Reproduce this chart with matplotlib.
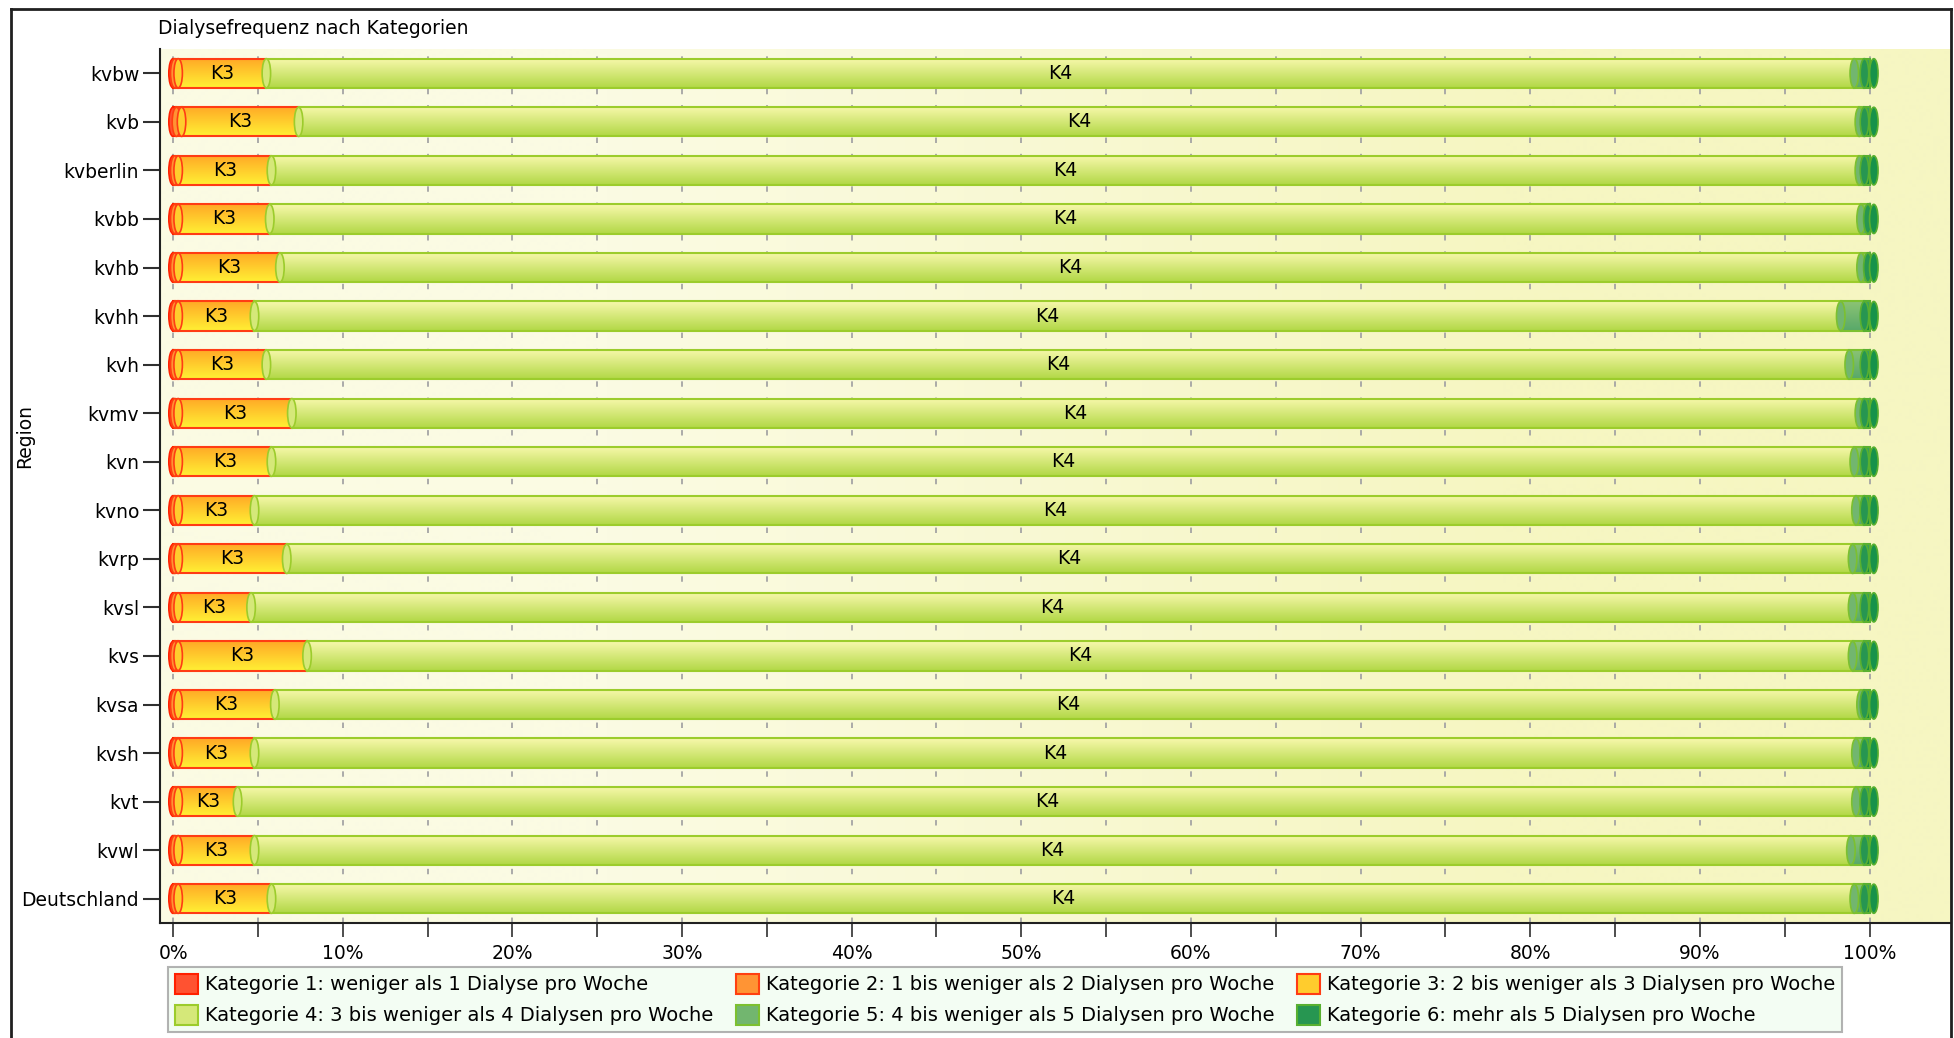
import numpy as np
from matplotlib import pyplot as plt
from matplotlib.patches import Ellipse, Patch
from matplotlib.lines import Line2D
from matplotlib.colors import to_rgb

regions = ['kvbw', 'kvb', 'kvberlin', 'kvbb', 'kvhb', 'kvhh', 'kvh', 'kvmv', 'kvn',
           'kvno', 'kvrp', 'kvsl', 'kvs', 'kvsa', 'kvsh', 'kvt', 'kvwl', 'Deutschland']

# percent share per category
kat1 = [0.1, 0.2, 0.1, 0.1, 0.1, 0.1, 0.1, 0.1, 0.1, 0.1, 0.1, 0.1, 0.1, 0.1, 0.1, 0.1, 0.1, 0.1]
kat2 = [0.2, 0.3, 0.2, 0.2, 0.2, 0.2, 0.2, 0.2, 0.2, 0.2, 0.2, 0.2, 0.2, 0.2, 0.2, 0.2, 0.2, 0.2]
kat3 = [5.2, 6.9, 5.5, 5.4, 6.0, 4.5, 5.2, 6.7, 5.5, 4.5, 6.4, 4.3, 7.6, 5.7, 4.5, 3.5, 4.5, 5.5]
kat4 = [93.6, 92.0, 93.6, 93.8, 93.2, 93.5, 93.3, 92.4, 93.3, 94.4, 92.3, 94.4, 91.1, 93.5, 94.4, 95.4, 94.1, 93.3]
kat5 = [0.6, 0.3, 0.3, 0.4, 0.4, 1.4, 0.9, 0.3, 0.6, 0.5, 0.7, 0.7, 0.7, 0.2, 0.5, 0.5, 0.8, 0.6]
kat6 = [0.3, 0.3, 0.3, 0.1, 0.1, 0.3, 0.3, 0.3, 0.3, 0.3, 0.3, 0.3, 0.3, 0.3, 0.3, 0.3, 0.3, 0.3]

legend_labels = [
    'Kategorie 1: weniger als 1 Dialyse pro Woche',
    'Kategorie 2: 1 bis weniger als 2 Dialysen pro Woche',
    'Kategorie 3: 2 bis weniger als 3 Dialysen pro Woche',
    'Kategorie 4: 3 bis weniger als 4 Dialysen pro Woche',
    'Kategorie 5: 4 bis weniger als 5 Dialysen pro Woche',
    'Kategorie 6: mehr als 5 Dialysen pro Woche',
]
seg_labels = ['', '', 'K3', 'K4', '', '']

# (top colour, bottom colour, edge colour) per category
styles = [
    ('#ff7050', '#ff3412', '#ff2000'),
    ('#ffa848', '#ff8020', '#ff4010'),
    ('#ffa826', '#fff034', '#ff3c14'),
    ('#f8f8ac', '#b2d846', '#9ccc2c'),
    ('#8cc474', '#58a86a', '#7cc030'),
    ('#3ea462', '#108840', '#58b030'),
]

BAR_H = 0.6
CAP_W = 0.5
FS = 13.5


def gradient(top, bottom, n=64):
    t = np.linspace(0, 1, n)[:, None]
    a, b = np.array(to_rgb(top)), np.array(to_rgb(bottom))
    return (a * (1 - t) + b * t)[:, None, :]


def mid_colour(k):
    top, bottom, _ = styles[k]
    return tuple((np.array(to_rgb(top)) + np.array(to_rgb(bottom))) / 2)


plt.rcParams['font.family'] = ['DejaVu Sans']
fig = plt.figure(figsize=(19.54, 10.38), dpi=100)
ax = fig.add_axes([160 / 1954, 1 - 923 / 1038, (1951 - 160) / 1954, (923 - 49) / 1038])

# plot background
bg = np.array([to_rgb('#fbfbe3'), to_rgb('#f6f6c2')])[None, :, :]
ax.imshow(bg, extent=(0, 1, 0, 1), transform=ax.transAxes, aspect='auto',
          interpolation='bilinear', zorder=0)

series = [kat1, kat2, kat3, kat4, kat5, kat6]
ypos = np.arange(len(regions))
for i, y in enumerate(ypos):
    left = 0.0
    for k, vals in enumerate(series):
        w = vals[i]
        top, bottom, edge = styles[k]
        bars = ax.barh(y, w, left=left, height=BAR_H, color='none', edgecolor=edge,
                       linewidth=1.5, zorder=2 + k * 0.1)
        img = ax.imshow(gradient(top, bottom), extent=(left, left + w, y + BAR_H / 2, y - BAR_H / 2),
                        aspect='auto', zorder=2 + k * 0.1 - 0.01, interpolation='bilinear')
        img.set_clip_path(bars[0])
        ax.add_patch(Ellipse((left, y), CAP_W, BAR_H, facecolor=mid_colour(k), edgecolor=edge,
                             linewidth=1.2, zorder=2 + k * 0.1 + 0.05))
        if seg_labels[k]:
            ax.text(left + w / 2, y, seg_labels[k], ha='center', va='center',
                    fontsize=FS, zorder=5)
        left += w
    # right end cap of the cylinder
    ax.add_patch(Ellipse((left + 0.25, y), CAP_W, BAR_H, facecolor='#17924a', edgecolor='#58b030',
                         linewidth=1.2, zorder=3))

ax.set_xlim(-0.77, 104.8)
ax.set_ylim(len(regions) - 0.5, -0.5)
ax.set_yticks(ypos)
ax.set_yticklabels(regions)
ax.set_xticks(np.arange(0, 101, 10))
ax.set_xticklabels([f'{v}%' for v in range(0, 101, 10)])
ax.set_xticks(np.arange(5, 100, 10), minor=True)

ax.set_axisbelow(True)
ax.grid(axis='x', which='both', color='#a4a4a4', linestyle=(0, (3, 6)), linewidth=1.3)
ax.tick_params(axis='x', which='both', direction='out', length=10, width=1.2,
               colors='#303030', labelsize=FS, pad=5)
ax.tick_params(axis='x', labelcolor='black')
ax.tick_params(axis='y', direction='out', length=12, width=1.5, colors='#303030',
               labelsize=FS, pad=3, labelcolor='black')
for side in ['top', 'right']:
    ax.spines[side].set_visible(False)
for side in ['left', 'bottom']:
    ax.spines[side].set_linewidth(1.5)
    ax.spines[side].set_color('#202020')

fig.text(158 / 1954, 1 - 28 / 1038, 'Dialysefrequenz nach Kategorien', fontsize=FS, va='center')
fig.text(25 / 1954, 0.58, 'Region', fontsize=FS, rotation=90, ha='center', va='center')

# outer frame
fx0, fx1, fy = 11 / 1954, 1951 / 1954, 1 - 9 / 1038
for xs, ys in [([fx0, fx0], [0, fy]), ([fx0, fx1], [fy, fy]), ([fx1, fx1], [0, fy])]:
    fig.add_artist(Line2D(xs, ys, transform=fig.transFigure, color='#202020', linewidth=2))

handles = [Patch(facecolor=mid_colour(k), edgecolor=styles[k][2], linewidth=1.5,
                 label=legend_labels[k]) for k in range(6)]
order = [0, 3, 1, 4, 2, 5]
leg = fig.legend([handles[j] for j in order], [legend_labels[j] for j in order],
                 loc='upper left', bbox_to_anchor=(168 / 1954, 1 - 967 / 1038), ncol=3,
                 fontsize=14, frameon=True, fancybox=False, facecolor='#f1fdf0',
                 edgecolor='#a0a0a0', handlelength=1.2, handleheight=1.2,
                 handletextpad=0.35, columnspacing=1.15, borderpad=0.35, labelspacing=0.53,
                 borderaxespad=0)
leg.get_frame().set_linewidth(1.5)

fig.savefig('out.png', dpi=100)
